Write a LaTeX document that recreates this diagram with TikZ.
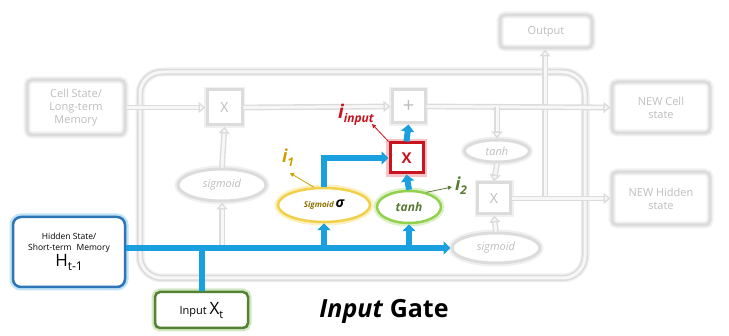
\documentclass[tikz,border=0pt]{standalone}
\usepackage{fontspec}
\setmainfont{Open Sans}
\usetikzlibrary{arrows.meta,shapes.geometric}
\definecolor{lg}{HTML}{DCDCDC}
\definecolor{lgt}{HTML}{BDBDBD}
\definecolor{glowg}{HTML}{F0F0F0}
\definecolor{inner}{HTML}{F7F7F7}
\definecolor{skyb}{HTML}{1AA0DE}
\definecolor{redx}{HTML}{C8141E}
\definecolor{redglow}{HTML}{F6C4C6}
\definecolor{hidb}{HTML}{2E75B6}
\definecolor{hidglow}{HTML}{BFE3F6}
\definecolor{inpg}{HTML}{548235}
\definecolor{inpglow}{HTML}{D5E8C4}
\definecolor{yel}{HTML}{F2D04A}
\definecolor{yelglow}{HTML}{FBF0C0}
\definecolor{yeltxt}{HTML}{C9A100}
\definecolor{grn}{HTML}{92D050}
\definecolor{grnglow}{HTML}{DDF0C8}
\definecolor{grntxt}{HTML}{5A7A35}
\tikzset{
  graybox/.style={draw=lg, line width=3pt, rounded corners=5pt, text=lgt, align=center,
    font=\fontsize{11}{13}\selectfont, inner sep=0pt,
    preaction={draw=glowg, line width=7pt}},
  grayop/.style={draw=lg, line width=3pt, text=lgt, inner sep=0pt,
    font=\fontsize{14}{14}\selectfont, preaction={draw=glowg, line width=6pt}},
  grayell/.style={ellipse, draw=lg, line width=3pt, text=lgt, inner sep=0pt,
    font=\fontsize{11}{13}\selectfont\itshape, preaction={draw=glowg, line width=7pt}},
  grayarr/.style={draw=lg, line width=1.4pt, double=inner, double distance=3pt,
    -{Triangle[open, fill=inner, width=11pt,length=7pt, line width=1.4pt]}},
  grayln/.style={draw=lg, line width=1.4pt, double=inner, double distance=3pt},
  bluearr/.style={draw=skyb, line width=6pt, -{Triangle[width=13pt,length=7pt]}},
  blueln/.style={draw=skyb, line width=6pt},
  thinarr/.style={line width=0.8pt, -{Triangle[width=4pt,length=4pt]}},
}
\newcommand{\subtxt}[2]{#1\raisebox{-4pt}{#2}}
\begin{document}
\begin{tikzpicture}[x=1pt,y=-1pt]
\useasboundingbox (0,0) rectangle (729,336);
% big cell outline
\draw[draw=lg, line width=1.6pt, double=inner, double distance=3pt, rounded corners=22pt,
  preaction={draw=glowg, line width=9pt}]
  (140,72) rectangle (585,278);

% gray nodes
\node[graybox, minimum width=98pt, minimum height=55pt] (cell) at (76,107.5) {Cell State/\\Long-term\\Memory};
\node[graybox, minimum width=92pt, minimum height=33pt] (out) at (546,31.5) {Output};
\node[graybox, minimum width=98pt, minimum height=51pt] (ncell) at (661,107.5) {NEW Cell\\state};
\node[graybox, minimum width=98pt, minimum height=53pt] (nhid) at (661,198.5) {NEW Hidden\\state};
\node[grayop, fill=white, minimum width=35pt, minimum height=35pt] (fx) at (224.5,107.5) {X};
\node[grayop, fill=white, minimum width=33pt, minimum height=33pt, font=\fontsize{20}{20}\selectfont] (plus) at (408.5,106.5) {+};
\node[grayell, fill=white, minimum width=65pt, minimum height=22pt] (tanhR) at (497,151) {tanh};
\node[grayop, fill=white, minimum width=33pt, minimum height=31pt] (ox) at (494,198.5) {X};
\node[grayell, fill=white, minimum width=88pt, minimum height=30pt] (sigR) at (496,248) {sigmoid};
\node[grayell, fill=white, minimum width=88pt, minimum height=32pt] (sigL) at (222,185) {sigmoid};

% gray connectors
\coordinate (oj) at (545,198.5);
\coordinate (tj) at (497,107.5);
\draw[grayarr] (oj) -- (oj |- out.south);
\draw[grayarr] (cell.east) -- (fx.west);
\draw[grayarr] (fx.east) -- (plus.west);
\draw[grayarr] (plus.east) -- (ncell.west);
\draw[grayarr] (tj) -- (tanhR.north);
\draw[grayarr] (tanhR.south) -- (ox.north);
\draw[grayarr] (sigR.north) -- (ox.south);
\draw[grayarr] (ox.east) -- (nhid.west);
\draw[grayarr] (sigL.north) -- (fx.south);
\coordinate (lj) at (222,248);
\draw[grayarr] (lj) -- (sigL.south);

% colored nodes
\node[draw=hidb, line width=2.5pt, rounded corners=8pt, fill=white, align=center,
  minimum width=112pt, minimum height=70pt, inner sep=0pt,
  font=\fontsize{8.5}{11}\selectfont,
  preaction={draw=hidglow, line width=7pt}] (hid) at (69,252)
  {Hidden State/\\Short-term\,\, Memory\\[1pt]\fontsize{17}{18}\selectfont\subtxt{H}{\fontsize{12}{12}\selectfont t-1}};
\node[draw=inpg, line width=2.5pt, rounded corners=5pt, fill=white,
  minimum width=93pt, minimum height=36pt, inner sep=0pt,
  font=\fontsize{11}{13}\selectfont,
  preaction={draw=inpglow, line width=7pt}] (inp) at (201.5,310)
  {Input \fontsize{17}{18}\selectfont\subtxt{X}{\fontsize{11}{11}\selectfont t}};
\node[ellipse, draw=yel, line width=2.5pt, fill=white, minimum width=92pt, minimum height=34pt,
  inner sep=0pt, font=\bfseries\itshape, preaction={draw=yelglow, line width=7pt}] (sigY) at (324,205)
  {\textcolor{yeltxt!70!black}{\fontsize{8}{10}\selectfont Sigmoid}\,\fontsize{14}{14}\selectfont σ};
\node[ellipse, draw=grn, line width=2.5pt, fill=white, minimum width=64pt, minimum height=32pt,
  inner sep=0pt, text=grntxt, font=\fontsize{12}{14}\selectfont\bfseries\itshape,
  preaction={draw=grnglow, line width=7pt}] (tanhG) at (409,207) {tanh};
\node[draw=redx, line width=3pt, fill=white, minimum width=33pt, minimum height=30pt,
  inner sep=0pt, text=redx, font=\fontsize{15}{15}\selectfont\bfseries,
  preaction={draw=redglow, line width=8pt}] (rx) at (406.5,158) {X};

% blue connectors
\coordinate (hj) at (hid.east |- sigR.west);
\draw[bluearr] (hj) -- (sigR.west);
\draw[blueln] (inp.north) -- (inp.north |- sigR.west);
\draw[bluearr] (sigY.south |- sigR.west) -- (sigY.south);
\draw[bluearr] (tanhG.south |- sigR.west) -- (tanhG.south);
\draw[bluearr] (sigY.north) |- (rx.west);
\draw[bluearr] (tanhG.north) -- (rx.south);
\draw[bluearr] (rx.north) -- (plus.south);

% labels
\node[text=redx, inner sep=0pt, font=\bfseries\itshape] (iin) at (356,115)
  {\fontsize{19}{19}\selectfont\subtxt{i}{\fontsize{12}{12}\selectfont input}};
\node[text=yeltxt, inner sep=0pt, font=\bfseries\itshape] (i1) at (288,158)
  {\fontsize{18}{18}\selectfont\subtxt{i}{\fontsize{12}{12}\selectfont 1}};
\node[text=grntxt, inner sep=0pt, font=\bfseries\itshape] (i2) at (461,186)
  {\fontsize{18}{18}\selectfont\subtxt{i}{\fontsize{12}{12}\selectfont 2}};
\draw[thinarr, redx] (rx.north west) -- (372,124);
\draw[thinarr, yeltxt] (sigY.120) -- (290,173);
\draw[thinarr, grntxt] (tanhG.40) -- (452,187);

% title
\node[font=\fontsize{25}{28}\selectfont\bfseries] (title) at (384,311)
  {\textit{Input} Gate};
\end{tikzpicture}
\end{document}
